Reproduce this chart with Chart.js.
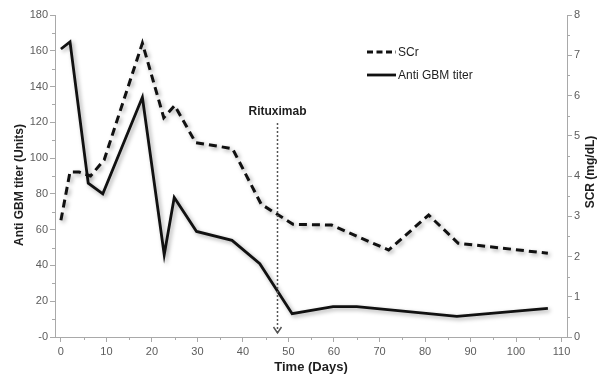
<!DOCTYPE html>
<html>
<head>
<meta charset="utf-8">
<script src="https://cdn.jsdelivr.net/npm/chart.js@4.4.0/dist/chart.umd.min.js"></script>
<style>
  html, body { margin: 0; padding: 0; background: #fff; }
  #wrap { width: 602px; height: 377px; }
</style>
</head>
<body>
<div id="wrap"><canvas id="myChart" width="602" height="377"></canvas></div>
<script>
// values
const scrDays = [0, 2, 4, 6.5, 9.5, 17.9, 22.6, 25, 29.6, 37.7, 44, 51, 59.5, 72, 80.8, 87.3, 107];
const scrValues = [2.9, 4.1, 4.1, 4.0, 4.4, 7.3, 5.45, 5.75, 4.83, 4.68, 3.3, 2.8, 2.78, 2.16, 3.03, 2.33, 2.08];
const titerDays = [0, 2, 6, 9.2, 17.9, 22.7, 24.9, 29.8, 37.6, 43.7, 50.8, 59.8, 65, 87, 107];
const titerValues = [161, 165, 86, 80, 134, 46, 78, 59, 54, 41, 13, 17, 17, 11.5, 16];

const dayTicks = [0, 10, 20, 30, 40, 50, 60, 70, 80, 90, 100, 110];
const titerTicks = [0, 20, 40, 60, 80, 100, 120, 140, 160, 180];
const scrTicks = [0, 1, 2, 3, 4, 5, 6, 7, 8];
const rituximabDay = 47.4;

const AXIS = "#a9a9a9";
const TICK_TEXT = "#5c5c5c";
const INK = "#1e1e1e";
const FONT = "'Liberation Sans', Arial, sans-serif";

function toPoints(xs, ys) {
  return xs.map((x, i) => ({ x: x, y: ys[i] }));
}

function fixedTicks(list) {
  return function (scale) {
    scale.ticks = list.map((v) => ({ value: v }));
  };
}

const tickFont = { family: FONT, size: 11 };
const axisGrid = { drawOnChartArea: false, drawTicks: true, tickLength: 5, color: AXIS };
const axisBorder = { color: AXIS, width: 1 };

// soft drop shadow under both lines
const shadowPlugin = {
  id: "lineShadow",
  beforeDatasetsDraw(chart) {
    const c = chart.ctx;
    c.save();
    c.shadowColor = "rgba(0,0,0,0.35)";
    c.shadowBlur = 4;
    c.shadowOffsetX = 2;
    c.shadowOffsetY = 2;
  },
  afterDatasetsDraw(chart) {
    chart.ctx.restore();
  },
};

// minor ticks, axis titles, legend and the Rituximab marker
const extrasPlugin = {
  id: "extras",
  afterDraw(chart) {
    const c = chart.ctx;
    const area = chart.chartArea;
    const xs = chart.scales.x;
    const yl = chart.scales.y;
    const yr = chart.scales.y1;
    c.save();

    c.strokeStyle = AXIS;
    c.lineWidth = 1;
    c.beginPath();
    for (let i = 0; i < dayTicks.length - 1; i++) {
      const px = Math.round(xs.getPixelForValue((dayTicks[i] + dayTicks[i + 1]) / 2)) + 0.5;
      c.moveTo(px, area.bottom);
      c.lineTo(px, area.bottom + 3);
    }
    for (let i = 0; i < titerTicks.length - 1; i++) {
      const py = Math.round(yl.getPixelForValue((titerTicks[i] + titerTicks[i + 1]) / 2)) + 0.5;
      c.moveTo(area.left - 3, py);
      c.lineTo(area.left, py);
    }
    for (let i = 0; i < scrTicks.length - 1; i++) {
      const py = Math.round(yr.getPixelForValue((scrTicks[i] + scrTicks[i + 1]) / 2)) + 0.5;
      c.moveTo(area.right, py);
      c.lineTo(area.right + 3, py);
    }
    c.stroke();

    // axis titles
    c.fillStyle = INK;
    c.font = "bold 12px " + FONT;
    c.textAlign = "center";
    c.textBaseline = "middle";
    c.save();
    c.translate(20, 185);
    c.rotate(-Math.PI / 2);
    c.fillText("Anti GBM titer (Units)", 0, 0);
    c.restore();
    c.save();
    c.translate(591, 172);
    c.rotate(-Math.PI / 2);
    c.fillText("SCR (mg/dL)", 0, 0);
    c.restore();
    c.font = "bold 13px " + FONT;
    c.fillText("Time (Days)", (area.left + area.right) / 2, 367);

    // legend
    const ds = chart.data.datasets;
    const rows = [
      { d: ds[0], y: 52, dash: [6, 3.5] },
      { d: ds[1], y: 75, dash: [] },
    ];
    rows.forEach((r) => {
      c.strokeStyle = r.d.borderColor;
      c.lineWidth = r.d.borderWidth;
      c.setLineDash(r.dash);
      c.beginPath();
      c.moveTo(367, r.y);
      c.lineTo(396, r.y);
      c.stroke();
      c.setLineDash([]);
      c.fillStyle = INK;
      c.font = "12px " + FONT;
      c.textAlign = "left";
      c.fillText(r.d.label, 398, r.y + 1);
    });

    // Rituximab marker
    const rx = Math.round(xs.getPixelForValue(rituximabDay)) + 0.5;
    c.strokeStyle = "#555";
    c.lineWidth = 1.5;
    c.setLineDash([2, 2]);
    c.beginPath();
    c.moveTo(rx, 123);
    c.lineTo(rx, area.bottom - 4);
    c.stroke();
    c.setLineDash([]);
    c.beginPath();
    c.moveTo(rx - 4, area.bottom - 10);
    c.lineTo(rx, area.bottom - 4);
    c.lineTo(rx + 4, area.bottom - 10);
    c.stroke();
    c.fillStyle = INK;
    c.font = "bold 12px " + FONT;
    c.textAlign = "center";
    c.fillText("Rituximab", rx, 112);

    c.restore();
  },
};

new Chart(document.getElementById("myChart"), {
  type: "line",
  data: {
    datasets: [
      {
        label: "SCr",
        data: toPoints(scrDays, scrValues),
        yAxisID: "y1",
        borderColor: "#111",
        borderWidth: 3,
        borderDash: [8, 5],
        pointRadius: 0,
        tension: 0,
        fill: false,
      },
      {
        label: "Anti GBM titer",
        data: toPoints(titerDays, titerValues),
        yAxisID: "y",
        borderColor: "#111",
        borderWidth: 2.8,
        pointRadius: 0,
        tension: 0,
        fill: false,
      },
    ],
  },
  plugins: [shadowPlugin, extrasPlugin],
  options: {
    responsive: false,
    animation: false,
    layout: { padding: { top: 15, bottom: 0, left: 0, right: 0 } },
    plugins: {
      legend: { display: false },
      tooltip: { enabled: false },
    },
    scales: {
      x: {
        type: "linear",
        position: "bottom",
        min: -1.3,
        max: 111.2,
        afterBuildTicks: fixedTicks(dayTicks),
        afterFit: (s) => { s.height = 40; },
        ticks: { font: tickFont, color: TICK_TEXT, padding: 3, maxRotation: 0 },
        grid: axisGrid,
        border: axisBorder,
      },
      y: {
        position: "left",
        min: 0,
        max: 180,
        afterBuildTicks: fixedTicks(titerTicks),
        afterFit: (s) => { s.width = 55; },
        ticks: {
          font: tickFont,
          color: TICK_TEXT,
          padding: 2,
          callback: (v) => (v === 0 ? "-0" : v),
        },
        grid: axisGrid,
        border: axisBorder,
      },
      y1: {
        position: "right",
        min: 0,
        max: 8,
        afterBuildTicks: fixedTicks(scrTicks),
        afterFit: (s) => { s.width = 35; },
        ticks: { font: tickFont, color: TICK_TEXT, padding: 2 },
        grid: axisGrid,
        border: axisBorder,
      },
    },
  },
});
</script>
</body>
</html>
